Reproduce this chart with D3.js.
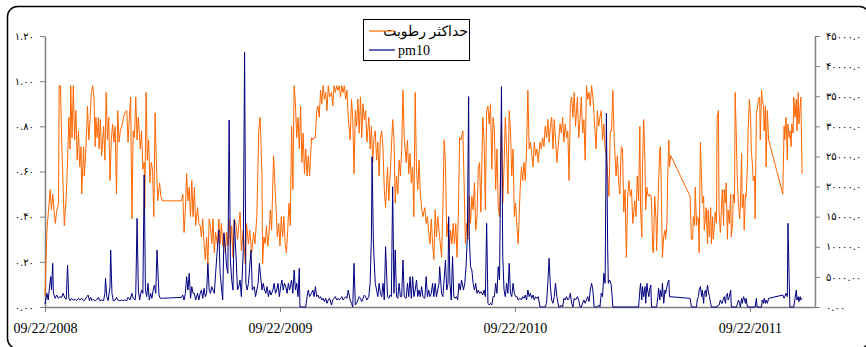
<!DOCTYPE html>
<html>
<head>
<meta charset="utf-8">
<script src="https://cdn.jsdelivr.net/npm/d3@7"></script>
<style>
  body { margin: 0; background: #fff; }
</style>
</head>
<body>
<svg id="chart"></svg>
<script>
// axis ranges and tick labels
const startDate = "09/22/2008";
const endDate = "01/01/2012";
const xTickLabels = ["09/22/2008", "09/22/2009", "09/22/2010", "09/22/2011"];
const leftTicks = [0, 0.2, 0.4, 0.6, 0.8, 1.0, 1.2];
const leftTickLabels = ["۰.۰۰", "۰.۲۰", "۰.۴۰", "۰.۶۰", "۰.۸۰", "۱.۰۰", "۱.۲۰"];
const rightTicks = [0, 5000, 10000, 15000, 20000, 25000, 30000, 35000, 40000, 45000];
const rightTickLabels = ["۰.۰۰", "۵۰۰۰.۰۰", "۱۰۰۰۰.۰", "۱۵۰۰۰.۰", "۲۰۰۰۰.۰", "۲۵۰۰۰.۰", "۳۰۰۰۰.۰", "۳۵۰۰۰.۰", "۴۰۰۰۰.۰", "۴۵۰۰۰.۰"];
const seriesNames = ["حداکثر رطوبت", "pm10"];

// [days after 09/22/2008, value]  -- left axis
const humidity = [
  [0,0.05],[3,0.34],[8,0.52],[10,0.43],[12,0.50],[14,0.43],[16,0.37],[18,0.42],[21,0.46],[22,0.98],
  [24,0.98],[26,0.73],[30,0.36],[33,0.49],[35,0.64],[37,0.84],[39,0.70],[40,0.98],[42,0.75],[44,0.98],
  [46,0.74],[48,0.87],[50,0.65],[52,0.78],[54,0.62],[56,0.71],[57,0.50],[60,0.71],[61,0.58],[63,0.67],
  [65,0.80],[66,0.89],[68,0.74],[70,0.83],[72,0.95],[74,0.98],[76,0.93],[78,0.71],[79,0.84],[81,0.75],
  [83,0.84],[84,0.70],[86,0.83],[88,0.67],[91,0.80],[93,0.65],[95,0.95],[97,0.74],[99,0.84],[101,0.56],
  [103,0.74],[105,0.81],[107,0.73],[109,0.80],[111,0.50],[113,0.87],[115,0.73],[117,0.78],[120,0.81],[122,0.84],
  [124,0.86],[127,0.87],[129,0.73],[131,0.84],[133,0.93],[135,0.39],[137,0.78],[139,0.75],[141,0.93],[143,0.74],
  [145,0.84],[148,0.70],[150,0.78],[152,0.61],[154,0.64],[155,0.44],[157,0.95],[159,0.65],[161,0.74],[163,0.55],
  [165,0.64],[167,0.61],[169,0.40],[171,0.86],[173,0.64],[175,0.47],[178,0.55],[180,0.49],[182,0.47],
  [212,0.47],[214,0.50],[216,0.33],[218,0.43],[220,0.59],[222,0.47],[224,0.53],[226,0.40],[228,0.56],[230,0.40],
  [232,0.53],[234,0.36],[237,0.44],[239,0.37],[241,0.36],[243,0.31],[245,0.39],[247,0.28],[249,0.21],[251,0.31],
  [253,0.19],[255,0.39],[257,0.36],[259,0.28],[261,0.39],[263,0.24],[265,0.33],[268,0.27],[270,0.39],[272,0.28],
  [274,0.37],[276,0.27],[278,0.33],[280,0.24],[282,0.33],[284,0.27],[286,0.39],[288,0.27],[290,0.36],[292,0.22],
  [294,0.39],[297,0.36],[299,0.30],[301,0.36],
  [303,0.42],[305,0.25],[308,0.34],[311,0.19],[313,0.37],[316,0.28],[318,0.34],[321,0.24],[324,0.33],[326,0.28],
  [329,0.40],[330,0.52],[332,0.78],[334,0.84],[335,0.77],[337,0.58],[338,0.19],[340,0.31],[342,0.28],[344,0.36],
  [346,0.27],[348,0.33],[350,0.43],[352,0.34],[355,0.67],[357,0.55],[359,0.43],[361,0.31],[363,0.37],[365,0.27],
  [367,0.40],[369,0.31],[371,0.40],[373,0.28],[375,0.24],[377,0.34],[379,0.46],[381,0.36],[383,0.80],[385,0.52],
  [387,0.98],[389,0.90],[391,0.75],[393,0.84],[395,0.70],[397,0.89],[399,0.64],[401,0.77],[403,0.59],[405,0.70],
  [407,0.58],[409,0.67],[411,0.58],[414,0.75],[416,0.74],[418,0.75],[420,0.75],[422,0.87],[424,0.89],[426,0.84],
  [428,0.96],[430,0.90],[432,0.98],[434,0.92],[436,0.95],[438,0.87],[440,0.98],[442,0.93],[445,0.95],[447,0.89],
  [449,0.98],[451,0.95],[453,0.98],[455,0.96],[457,0.98],[459,0.93],[461,0.98],[463,0.95],[465,0.98],[467,0.92],
  [469,0.96],[471,0.84],[474,0.74],[476,0.92],[478,0.84],[480,0.59],[482,0.87],[484,0.80],[486,0.92],[488,0.77],
  [490,0.93],[492,0.75],[494,0.90],[496,0.83],[498,0.87],[500,0.73],[503,0.84],[505,0.70],[507,0.80],[509,0.64],
  [511,0.75],[513,0.78],[515,0.65],[517,0.73],[519,0.58],[521,0.75],[523,0.78],[525,0.70],[527,0.52],[529,0.44],
  [532,0.62],[534,0.47],[536,0.58],[538,0.70],[540,0.83],[542,0.75],[544,0.46],[546,0.58],[548,0.50],[550,0.65],
  [552,0.58],[554,0.70],[556,0.96],[558,0.75],[561,0.64],[563,0.74],[565,0.59],[567,0.68],[569,0.55],[571,0.62],
  [573,0.40],[575,0.95],[577,0.61],[579,0.52],[581,0.65],[583,0.50],[585,0.44],[587,0.40],[590,0.44],[592,0.37],
  [594,0.40],[596,0.33],[598,0.28],[600,0.39],[602,0.28],[604,0.21],[606,0.43],[608,0.31],[610,0.40],[612,0.34],
  [613,0.31],[616,0.22],[618,0.44],[620,0.74],[622,0.64],[624,0.31],[626,0.37],[628,0.25],[630,0.34],[632,0.28],
  [634,0.37],[636,0.28],[638,0.37],[640,0.22],[642,0.40],[644,0.75],[646,0.74],[649,0.78],[651,0.55],[653,0.28],
  [655,0.37],[657,0.30],[659,0.49],[661,0.37],[663,0.49],[665,0.43],[667,0.55],[669,0.34],[671,0.40],[673,0.61],
  [675,0.64],[677,0.42],[680,0.84],[682,0.74],[684,0.43],[686,0.87],[688,0.89],[690,0.81],[692,0.90],[694,0.61],
  [696,0.84],[698,0.78],[700,0.52],[702,0.70],[704,0.44],[706,0.40],[709,0.81],[711,0.46],[713,0.62],[715,0.84],
  [717,0.70],[719,0.50],[721,0.87],[723,0.78],[725,0.58],[727,0.70],[729,0.40],[731,0.46],[733,0.36],[735,0.28],
  [738,0.52],[740,0.62],[742,0.56],[744,0.64],[746,0.56],[748,0.70],[750,0.96],[752,0.70],[754,0.73],[756,0.68],
  [758,0.62],[760,0.73],[762,0.67],[764,0.70],[766,0.64],[769,0.73],[771,0.70],[773,0.75],[775,0.71],[777,0.80],
  [779,0.75],[781,0.83],[783,0.73],[785,0.80],[787,0.84],[789,0.70],[791,0.83],[793,0.74],[795,0.64],[798,0.74],
  [800,0.81],[802,0.77],[804,0.84],[806,0.73],[808,0.81],[810,0.75],[812,0.78],[814,0.56],[816,0.90],[818,0.93],
  [820,0.84],[822,0.95],[824,0.80],[827,0.93],[829,0.75],[831,0.83],[833,0.93],[835,0.77],[837,0.83],[839,0.65],
  [841,0.98],[843,0.92],[845,0.95],[847,0.89],[849,0.98],[851,0.93],[853,0.84],[856,0.70],[858,0.87],[860,0.80],
  [862,0.84],[864,0.87],[866,0.74],[868,0.81],[870,0.70],[872,0.67],[874,0.58],[876,0.49],[878,0.78],[880,0.78],
  [882,0.96],[884,0.75],[887,0.58],[889,0.67],[891,0.55],[893,0.50],[895,0.71],[897,0.70],[899,0.42],[901,0.52],
  [903,0.22],[905,0.49],[907,0.56],[909,0.49],[911,0.52],[913,0.37],[916,0.47],[918,0.40],[920,0.58],[922,0.47],
  [924,0.80],[925,0.44],[927,0.31],[928,0.62],[930,0.83],[932,0.62],[933,0.43],[935,0.53],[936,0.50],[938,0.49],
  [939,0.50],[941,0.49],[942,0.47],[944,0.25],[945,0.24],[947,0.49],[949,0.39],[950,0.25],[952,0.44],[953,0.55],
  [955,0.70],[956,0.71],[958,0.40],[959,0.22],[961,0.31],[963,0.34],[964,0.30],[966,0.37],[967,0.55],[969,0.74],
  [970,0.62],[972,0.67],
  [1002,0.49],[1004,0.30],[1006,0.30],[1007,0.40],[1009,0.36],[1010,0.53],[1012,0.36],[1013,0.40],[1015,0.39],[1016,0.24],
  [1018,0.73],[1020,0.55],[1021,0.46],[1023,0.49],[1024,0.34],[1026,0.40],[1027,0.44],[1029,0.28],[1030,0.43],[1032,0.31],
  [1034,0.44],[1035,0.28],[1037,0.40],[1038,0.30],[1040,0.37],[1041,0.42],[1043,0.37],[1044,0.84],[1046,0.87],[1047,0.42],
  [1049,0.33],[1051,0.46],[1052,0.52],[1054,0.36],[1055,0.52],[1057,0.46],[1058,0.55],[1060,0.30],[1061,0.43],[1063,0.37],
  [1065,0.50],[1066,0.31],[1068,0.37],[1069,0.50],[1071,0.46],[1072,0.95],[1074,0.73],[1075,0.59],[1077,0.46],[1079,0.39],
  [1080,0.44],[1082,0.68],[1083,0.44],[1085,0.50],[1086,0.34],[1088,0.50],[1089,0.49],[1091,0.62],[1092,0.77],[1094,0.92],
  [1096,0.84],[1097,0.70],[1099,0.62],[1100,0.56],[1102,0.58],[1103,0.39],[1105,0.87],[1106,0.87],[1108,0.92],[1110,0.93],
  [1111,0.74],[1113,0.96],[1114,0.92],[1116,0.89],[1117,0.78],[1119,0.89],[1120,0.62],[1122,0.87],[1124,0.74],
  [1146,0.50],[1148,0.80],[1149,0.74],[1151,0.84],[1153,0.65],[1154,0.81],[1156,0.75],[1157,0.78],[1159,0.71],[1160,0.81],
  [1162,0.77],[1163,0.93],[1165,0.84],[1167,0.92],[1168,0.78],[1170,0.95],[1171,0.81],[1173,0.89],[1174,0.93],[1176,0.59]
];

// [days after 09/22/2008, value]  -- right axis
const pm10 = [
  [0,500],[3,2270],[5,1160],[7,3380],[9,5040],[10,2820],[12,7250],[13,2270],[16,1440],[18,1990],
  [21,1440],[23,1720],[26,1600],[28,2270],[31,1440],[33,1270],[35,6970],[37,1440],[39,1050],[41,1440],
  [44,1160],[47,1270],[49,1050],[52,1440],[54,1160],[57,1440],[60,1050],[62,1160],[65,1720],[67,1990],
  [69,1050],[71,1600],[73,1050],[75,1270],[78,1050],[80,1160],[83,1600],[85,1050],[88,1160],[91,1050],
  [93,2270],[94,4760],[96,1720],[98,1050],[101,3380],[102,9470],[104,2270],[106,1050],[109,1160],[111,1600],
  [114,1050],[116,1050],[119,1160],[122,1050],[124,1160],[127,1050],[129,1600],[132,1160],[135,2270],[137,1440],
  [140,1160],[141,2270],[143,14720],[145,2820],[147,1160],[150,2820],[152,2270],[154,21920],[156,2820],[158,1720],
  [160,3930],[162,1160],[164,2270],[166,1440],[168,2820],[170,3650],[172,2270],[174,9470],[177,1990],[179,1440],
  [181,1440],
  [212,1600],[214,1990],[216,1160],[218,2270],[220,5040],[222,2820],[224,5590],[226,1440],[228,3380],[230,2270],
  [232,2270],[234,1160],[237,2270],[239,1160],[241,2270],[243,2820],[245,1440],[247,3100],[249,1720],[251,2270],
  [253,7250],[255,2820],[257,2270],[259,3380],[261,2820],[263,2270],[265,5590],[268,10020],[270,12790],[272,5590],
  [274,3380],[276,1160],[278,12230],[280,10020],[282,6700],[284,5590],[286,31050],[288,7800],[290,4480],[292,2820],
  [294,14450],[297,7800],[299,2820],[301,3380],
  [303,4480],[305,1720],[308,9470],[310,42300],[312,3930],[314,2820],[316,3930],[318,6700],[320,9470],[322,2820],
  [325,3380],[327,1720],[329,2820],[331,3930],[333,7250],[335,5040],[337,2820],[339,3930],[341,2820],[343,2270],
  [345,3380],[347,1720],[349,2820],[351,1990],[354,2820],[356,3930],[358,2270],[360,2820],[362,3930],[364,1720],
  [366,3380],[368,4480],[370,2820],[372,3930],[374,3380],[376,2270],[378,3930],[380,2820],[383,4480],[385,2270],
  [387,6140],[389,2820],[391,3930],[393,1720],[395,6420],[396,0],[399,0],[402,0],[405,0],[407,1720],
  [409,2820],[411,1720],[414,2270],[416,2820],[418,1720],[420,3380],[422,1720],[424,1990],[426,1440],[428,1720],
  [430,1160],[432,1440],[434,890],[436,1440],[438,610],[440,1160],[442,1440],[445,330],[447,1160],[449,1440],
  [451,1720],[453,1160],[455,1440],[457,1160],[459,1440],[461,1720],[463,1160],[465,1440],[467,1720],[469,1440],
  [471,2820],[474,1160],[476,610],[478,0],[480,7250],[482,330],[484,610],[486,1160],[488,1720],[490,1440],
  [492,890],[494,1440],[496,1990],[498,1720],[500,1160],[503,1720],[505,3930],[507,11680],[508,24960],[510,11130],
  [511,8360],[513,3930],[515,2820],[517,1720],[519,3930],[521,2270],[523,1720],[525,3930],[527,1160],[529,10020],
  [532,1720],[534,1440],[536,1990],[538,1720],[540,19980],[542,2270],[544,9470],[546,1720],[548,1440],[550,3930],
  [552,1720],[554,1720],[556,7800],[558,1720],[561,1440],[563,3930],[565,1720],[567,5040],[569,1440],[571,5040],
  [573,1720],[575,2820],[577,4480],[579,1720],[581,2820],[583,1720],[585,3380],[587,1720],[590,1440],[592,5040],
  [594,1720],[596,2820],[598,1720],[600,2270],[602,3930],[604,1720],[606,3930],[608,1720],[610,2820],[612,3930],
  [613,6700],[616,2270],[618,1720],[621,6140],[622,7800],[624,2820],[626,3930],[627,15000],[629,3930],[631,1160],
  [633,8360],[635,1720],[637,1440],[639,1720],[641,1160],[643,3930],[645,2820],[647,4480],[650,2820],[652,3930],
  [654,6700],[656,11680],[658,34930],[659,11680],[661,6700],[663,6140],[665,3930],[667,2820],[669,3930],[671,2270],
  [673,2820],[675,2270],[677,2550],[680,1990],[682,2820],[684,1720],[686,13890],[688,610],[690,330],[692,610],
  [694,330],[696,1720],[698,1720],[700,3930],[702,2270],[704,6700],[706,4480],[709,36590],[711,8360],[713,2820],
  [715,1720],[717,3930],[719,2270],[721,7250],[723,2270],[725,1720],[727,3930],[729,2270],[731,1720],[733,1720],
  [735,1160],[738,1440],[740,1160],[742,1720],[744,1440],[746,1990],[748,1160],[750,2820],[752,1720],[754,2270],
  [756,1440],[758,1990],[760,1160],[762,1720],[764,1440],[766,1720],[769,0],[771,0],[773,0],[775,0],
  [777,0],[779,610],[781,3930],[783,8080],[785,3380],[787,1160],[789,610],[791,1720],[793,3930],[795,1720],
  [798,0],[800,0],[802,330],[804,0],[806,1440],[808,1160],[810,1720],[812,1160],[814,1440],[816,2270],
  [818,610],[820,0],[822,1440],[824,1160],[827,1720],[829,1160],[831,0],[833,0],[835,610],[837,1160],
  [839,610],[841,1160],[843,1720],[845,890],[847,2820],[849,3930],[851,2820],[853,0],[856,0],[858,0],
  [860,330],[862,0],[864,2270],[866,1720],[868,5590],[870,3930],[872,32160],[874,9470],[875,3930],[877,4480],
  [879,3930],[881,1720],[882,0],[922,0],
  [924,2820],[925,3930],[927,1160],[928,3380],[930,1720],[932,3380],[933,610],[935,3930],[936,2820],[938,1720],
  [939,2820],[941,3650],[942,0],[950,0],[952,1720],[953,3100],[955,1160],[956,2820],[958,1720],[959,3930],
  [961,610],[963,2820],[964,2270],[966,3380],[967,3930],[969,4480],[970,1720],
  [1002,1440],[1004,0],[1012,0],[1013,1160],[1015,1720],[1016,2820],[1018,3380],[1020,1720],[1021,2820],[1023,610],
  [1024,2270],[1026,2820],[1027,1720],[1029,3650],[1030,2820],[1032,1720],[1034,610],[1035,0],[1044,0],[1046,330],
  [1047,330],[1049,1160],[1051,610],[1052,610],[1054,1440],[1055,1720],[1057,610],[1058,1720],[1060,2270],[1061,1160],
  [1063,1720],[1065,2820],[1066,0],[1074,0],[1075,330],[1077,1160],[1079,610],[1080,0],[1082,1440],[1083,610],
  [1085,1720],[1086,1440],[1088,610],[1089,1440],[1091,0],[1103,0],[1105,1440],[1106,0],[1113,0],[1114,1160],
  [1116,610],[1117,1440],[1119,610],[1120,1160],[1122,610],[1124,1440],
  [1146,1990],[1148,1440],[1149,1720],[1151,2270],[1153,1720],[1154,13890],[1156,3930],[1157,0],[1163,0],[1165,1440],
  [1167,2820],[1168,1160],[1170,1720],[1171,890],[1173,1720],[1174,1160],[1176,1440]
];

const width = 866, height = 347;
const margin = { left: 45, right: 51, top: 36, bottom: 40 };
const axisColor = "#7f7f7f";
const digitFont = "'DejaVu Sans', sans-serif";
const serifFont = "'Liberation Serif', 'Times New Roman', serif";

const svg = d3.select("#chart")
    .attr("width", width)
    .attr("height", height)
    .style("display", "block");

// outer rounded frame (partly off-canvas, like the original)
svg.append("rect")
    .attr("x", 7.5).attr("y", 6.5)
    .attr("width", 862).attr("height", 342)
    .attr("rx", 10)
    .attr("fill", "none")
    .attr("stroke", "#000")
    .attr("stroke-width", 1.5);

const parse = d3.utcParse("%m/%d/%Y");
const t0 = parse(startDate);

const x = d3.scaleUtc()
    .domain([t0, parse(endDate)])
    .range([margin.left, width - margin.right]);
const yLeft = d3.scaleLinear()
    .domain([0, 1.2])
    .range([height - margin.bottom, margin.top]);
const yRight = d3.scaleLinear()
    .domain([0, 45000])
    .range([height - margin.bottom, margin.top]);

function styleAxis(g, fontSize, family) {
    g.select(".domain").attr("stroke", axisColor).attr("stroke-width", 1.5);
    g.selectAll(".tick line").attr("stroke", axisColor).attr("stroke-width", 1);
    g.selectAll(".tick text")
        .attr("fill", "#000")
        .style("font-family", family)
        .style("font-size", fontSize + "px");
}

svg.append("g")
    .attr("transform", `translate(${margin.left},0)`)
    .call(d3.axisLeft(yLeft)
        .tickValues(leftTicks)
        .tickFormat((d, i) => leftTickLabels[i])
        .tickSize(5).tickSizeOuter(0).tickPadding(6))
    .call(g => styleAxis(g, 10, digitFont));

svg.append("g")
    .attr("transform", `translate(${width - margin.right},0)`)
    .call(d3.axisRight(yRight)
        .tickValues(rightTicks)
        .tickFormat((d, i) => rightTickLabels[i])
        .tickSize(5).tickSizeOuter(0).tickPadding(6))
    .call(g => styleAxis(g, 10, digitFont));

svg.append("g")
    .attr("transform", `translate(0,${height - margin.bottom})`)
    .call(d3.axisBottom(x)
        .tickValues(xTickLabels.map(parse))
        .tickFormat((d, i) => xTickLabels[i])
        .tickSize(5).tickSizeOuter(0).tickPadding(11))
    .call(g => styleAxis(g, 14, serifFont));

const toDate = d => d3.utcDay.offset(t0, d[0]);

const humLine = d3.line()
    .x(d => x(toDate(d)))
    .y(d => yLeft(d[1]));
const pmLine = d3.line()
    .x(d => x(toDate(d)))
    .y(d => yRight(d[1]));

svg.append("path")
    .datum(humidity)
    .attr("d", humLine)
    .attr("fill", "none")
    .attr("stroke", "#ff6600")
    .attr("stroke-width", 1)
    .attr("stroke-linejoin", "round");

svg.append("path")
    .datum(pm10)
    .attr("d", pmLine)
    .attr("fill", "none")
    .attr("stroke", "#000080")
    .attr("stroke-width", 1)
    .attr("stroke-linejoin", "round");

// legend
const legend = svg.append("g").attr("class", "legend");
legend.append("rect")
    .attr("x", 363.5).attr("y", 19.5)
    .attr("width", 106).attr("height", 41)
    .attr("fill", "#fff")
    .attr("stroke", "#000")
    .attr("stroke-width", 1);

const legendColors = ["#ff6600", "#000080"];
const legendY = [31, 50];
seriesNames.forEach((name, i) => {
    legend.append("line")
        .attr("x1", 369).attr("x2", 395)
        .attr("y1", legendY[i]).attr("y2", legendY[i])
        .attr("stroke", legendColors[i])
        .attr("stroke-width", 1.2);
    legend.append("text")
        .attr("x", i === 0 ? 468 : 398)
        .attr("y", legendY[i])
        .attr("dy", "0.35em")
        .attr("text-anchor", i === 0 ? "end" : "start")
        .style("font-family", serifFont + ", 'DejaVu Sans'")
        .style("font-size", "14px")
        .text(name);
});
</script>
</body>
</html>
